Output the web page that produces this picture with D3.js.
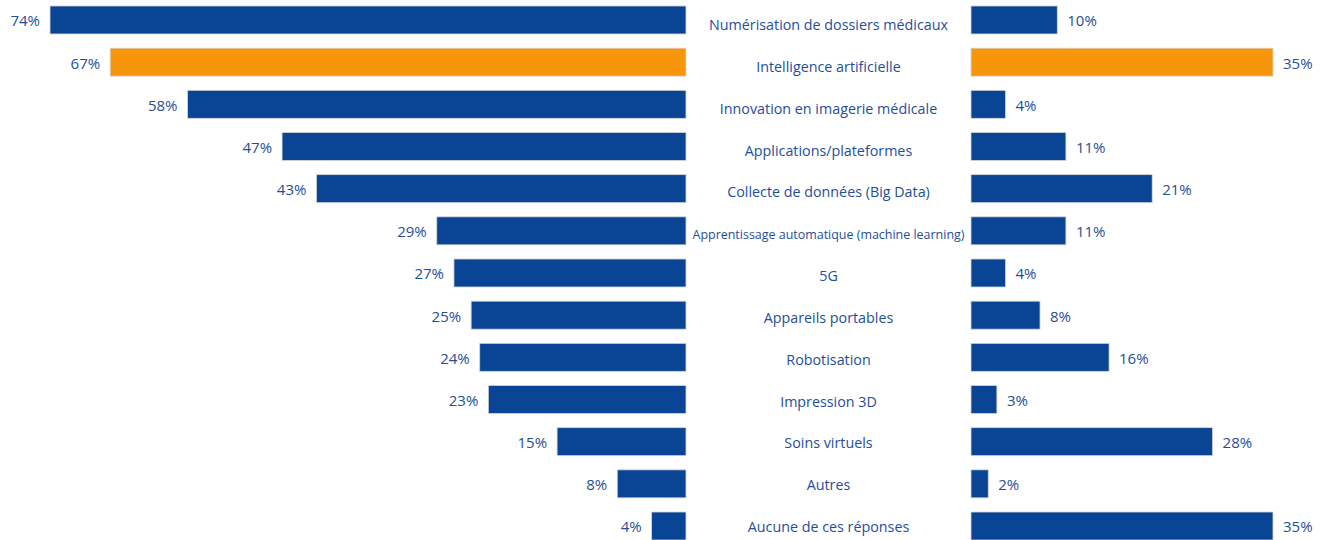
<!DOCTYPE html>
<html>
<head>
<meta charset="utf-8">
<script src="https://cdn.jsdelivr.net/npm/d3@7"></script>
<style>
  body { margin: 0; background: #fff; }
  svg { display: block; }
  text { font-family: "Open Sans", "Noto Sans", sans-serif; fill: #1f4e9a; }
</style>
</head>
<body>
<svg id="chart" width="1322" height="540"></svg>
<script>
const categories = [
  "Numérisation de dossiers médicaux",
  "Intelligence artificielle",
  "Innovation en imagerie médicale",
  "Applications/plateformes",
  "Collecte de données (Big Data)",
  "Apprentissage automatique (machine learning)",
  "5G",
  "Appareils portables",
  "Robotisation",
  "Impression 3D",
  "Soins virtuels",
  "Autres",
  "Aucune de ces réponses"
];
const leftValues = [74, 67, 58, 47, 43, 29, 27, 25, 24, 23, 15, 8, 4];
const rightValues = [10, 35, 4, 11, 21, 11, 4, 8, 16, 3, 28, 2, 35];
const highlight = "Intelligence artificielle";

const BLUE = "#0a4595";
const ORANGE = "#f7960b";

const svg = d3.select("#chart");

const y = d3.scaleBand()
            .domain(categories)
            .range([-1.1, 547.1])
            .paddingInner(0.336)
            .paddingOuter(0.168);

// middle labels sit on a slightly tighter grid than the bars
const yLabel = d3.scalePoint().domain(categories).range([25, 527]);

// left side grows leftwards from x=686
const xLeft = d3.scaleLinear().domain([0, 74]).range([686, 50]);
const xRight = d3.scaleLinear().domain([0, 35]).range([971, 1273]);

const rows = categories.map((c, i) => ({ cat: c, left: leftValues[i], right: rightValues[i] }));
const fillOf = d => d.cat === highlight ? ORANGE : BLUE;

svg.append("g").selectAll("rect")
   .data(rows).enter().append("rect")
   .attr("x", d => xLeft(d.left))
   .attr("y", d => y(d.cat))
   .attr("width", d => xLeft(0) - xLeft(d.left))
   .attr("height", y.bandwidth())
   .attr("fill", fillOf)
   .attr("stroke", "#d6d6d6")
   .attr("stroke-width", 0.8);

svg.append("g").selectAll("rect")
   .data(rows).enter().append("rect")
   .attr("x", xRight(0))
   .attr("y", d => y(d.cat))
   .attr("width", d => xRight(d.right) - xRight(0))
   .attr("height", y.bandwidth())
   .attr("fill", fillOf)
   .attr("stroke", "#d6d6d6")
   .attr("stroke-width", 0.8);

// value labels
svg.append("g").selectAll("text")
   .data(rows).enter().append("text")
   .attr("x", d => xLeft(d.left) - 10)
   .attr("y", d => y(d.cat) + y.bandwidth() / 2 + 1)
   .attr("dy", "0.36em")
   .attr("text-anchor", "end")
   .style("font-size", "15px")
   .text(d => d.left + "%");

svg.append("g").selectAll("text")
   .data(rows).enter().append("text")
   .attr("x", d => xRight(d.right) + 10)
   .attr("y", d => y(d.cat) + y.bandwidth() / 2 + 1)
   .attr("dy", "0.36em")
   .style("font-size", "15px")
   .text(d => d.right + "%");

// category labels in the middle, shrunk if too long
const mid = (xLeft(0) + xRight(0)) / 2;
const maxW = 272;
svg.append("g").selectAll("text")
   .data(rows).enter().append("text")
   .attr("x", mid)
   .attr("y", d => yLabel(d.cat))
   .attr("dy", "0.36em")
   .attr("text-anchor", "middle")
   .style("font-size", "14.3px")
   .text(d => d.cat)
   .each(function() {
     let w = this.getComputedTextLength();
     if (w > maxW) d3.select(this).style("font-size", (14.3 * maxW / w).toFixed(2) + "px");
   });
</script>
</body>
</html>
